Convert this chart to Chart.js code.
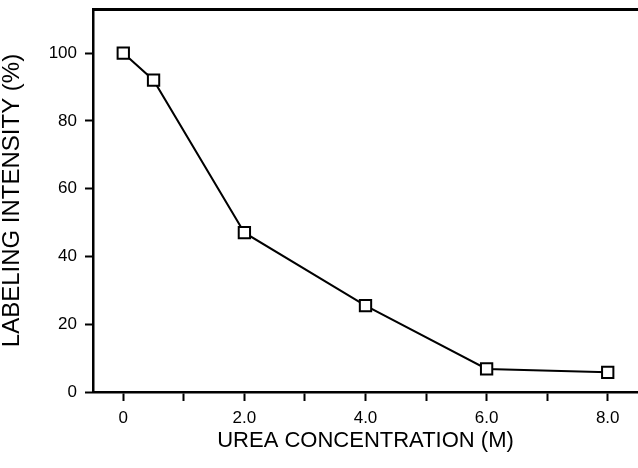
<!DOCTYPE html>
<html>
<head>
<meta charset="utf-8">
<script src="https://cdn.jsdelivr.net/npm/chart.js@4"></script>
<style>
  html, body { margin: 0; padding: 0; background: #fff; }
  canvas { display: block; }
</style>
</head>
<body>
<canvas id="c" width="638" height="468"></canvas>
<script>
const ureaConcentration = [0, 0.5, 2.0, 4.0, 6.0, 8.0];
const labelingIntensity = [100, 92, 47, 25.5, 6.8, 5.8];
const xTickPositions = [0, 1, 2, 3, 4, 5, 6, 7, 8];
const xTickLabels = ['0', '', '2.0', '', '4.0', '', '6.0', '', '8.0'];
const yTickValues = [0, 20, 40, 60, 80, 100];
const xTitle = 'UREA CONCENTRATION (M)';
const yTitle = 'LABELING INTENSITY (%)';

const FONT = '"Liberation Sans", Arial, sans-serif';

const topBorder = {
  id: 'topBorder',
  afterDraw(chart) {
    const { ctx, chartArea } = chart;
    ctx.save();
    ctx.strokeStyle = '#000';
    ctx.lineWidth = 3;
    ctx.beginPath();
    ctx.moveTo(chartArea.left - 1, chartArea.top + 0.5);
    ctx.lineTo(chart.width, chartArea.top + 0.5);
    ctx.stroke();
    ctx.restore();
  }
};

new Chart(document.getElementById('c'), {
  type: 'scatter',
  data: {
    datasets: [{
      data: ureaConcentration.map((x, i) => ({ x, y: labelingIntensity[i] })),
      showLine: true,
      tension: 0,
      borderColor: '#000',
      borderWidth: 2,
      pointStyle: 'rect',
      pointRadius: 8,
      pointHoverRadius: 8,
      pointBorderWidth: 2,
      pointBackgroundColor: '#fff',
      pointBorderColor: '#000'
    }]
  },
  options: {
    responsive: false,
    animation: false,
    layout: { autoPadding: false, padding: { top: 9, right: 0, left: 0, bottom: 0 } },
    plugins: { legend: { display: false }, tooltip: { enabled: false } },
    scales: {
      x: {
        type: 'linear',
        min: -0.5,
        max: 8.5,
        afterBuildTicks: s => { s.ticks = xTickPositions.map(v => ({ value: v })); },
        afterFit: s => { s.height = 76; s.paddingLeft = 0; s.paddingRight = 0; },
        ticks: {
          autoSkip: false,
          maxRotation: 0,
          padding: 7,
          color: '#000',
          font: { family: FONT, size: 17 },
          callback: (v) => xTickLabels[xTickPositions.indexOf(v)] ?? ''
        },
        grid: {
          drawOnChartArea: false,
          drawTicks: true,
          tickLength: 9,
          tickWidth: 2,
          tickColor: '#000',
          color: '#000'
        },
        border: { display: true, color: '#000', width: 2.5 },
        title: {
          display: true,
          text: xTitle,
          color: '#000',
          font: { family: FONT, size: 22 },
          padding: { top: 0, bottom: 14 }
        }
      },
      y: {
        type: 'linear',
        min: 0,
        max: 113,
        afterBuildTicks: s => { s.ticks = yTickValues.map(v => ({ value: v })); },
        afterFit: s => { s.width = 93; s.paddingTop = 0; s.paddingBottom = 0; },
        ticks: {
          padding: 8,
          color: '#000',
          font: { family: FONT, size: 17 },
          callback: v => String(v)
        },
        grid: {
          drawOnChartArea: false,
          drawTicks: true,
          tickLength: 8,
          tickWidth: 2,
          tickColor: '#000',
          color: '#000'
        },
        border: { display: true, color: '#000', width: 2.5 },
        title: {
          display: true,
          text: yTitle,
          color: '#000',
          font: { family: FONT, size: 24, lineHeight: 1 },
          padding: { top: 0, bottom: 0 }
        }
      }
    }
  },
  plugins: [topBorder]
});
</script>
</body>
</html>
